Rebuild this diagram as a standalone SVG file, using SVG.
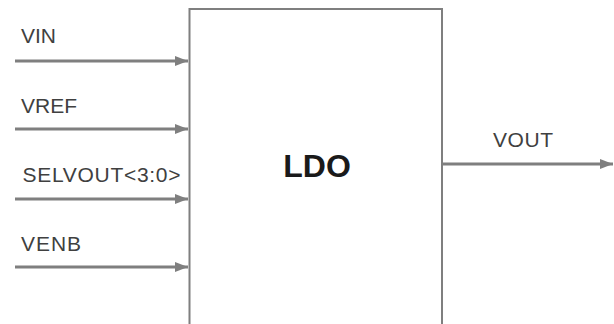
<svg xmlns="http://www.w3.org/2000/svg" width="614" height="324" viewBox="0 0 614 324">
<style>
.wire{stroke:#7f7f7f;stroke-width:3;fill:none}
.lbl{font-family:"Liberation Sans",Arial,sans-serif;font-size:21px;fill:#404040}
.title{font-family:"Liberation Sans",Arial,sans-serif;font-size:32px;font-weight:bold;fill:#1a1a1a}
</style>
<defs>
<marker id="ah" markerUnits="userSpaceOnUse" markerWidth="13" markerHeight="10" refX="13" refY="5" orient="auto">
<path d="M0,0 L13,5 L0,10 Z" fill="#7f7f7f"/>
</marker>
</defs>
<rect width="614" height="324" fill="#ffffff"/>
<g id="ldo">
<rect x="189.5" y="9" width="252.5" height="330" fill="#ffffff" stroke="#7f7f7f" stroke-width="2"/>
<text class="title" x="317" y="177" text-anchor="middle">LDO</text>
</g>
<g id="connectors">
<line class="wire" x1="15" y1="61" x2="188" y2="61" marker-end="url(#ah)"/>
<line class="wire" x1="15" y1="129" x2="188" y2="129" marker-end="url(#ah)"/>
<line class="wire" x1="15" y1="199" x2="188" y2="199" marker-end="url(#ah)"/>
<line class="wire" x1="15" y1="267" x2="188" y2="267" marker-end="url(#ah)"/>
<line class="wire" x1="443" y1="164" x2="613" y2="164" marker-end="url(#ah)"/>
</g>
<g id="labels">
<text class="lbl" x="21" y="43">VIN</text>
<text class="lbl" x="21" y="113">VREF</text>
<text class="lbl" x="22.5" y="182" textLength="158" lengthAdjust="spacing">SELVOUT&lt;3:0&gt;</text>
<text class="lbl" x="21" y="251" textLength="60" lengthAdjust="spacing">VENB</text>
<text class="lbl" x="493" y="147" textLength="60" lengthAdjust="spacing">VOUT</text>
</g>
</svg>
